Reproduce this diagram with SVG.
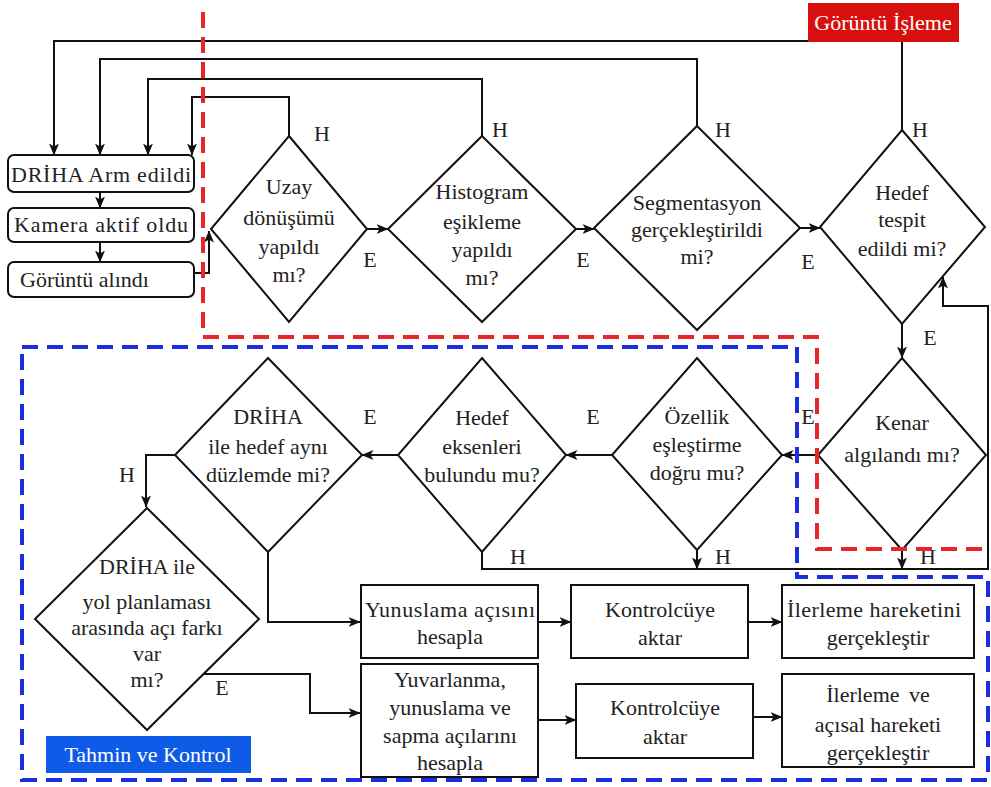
<svg xmlns="http://www.w3.org/2000/svg" width="991" height="787" viewBox="0 0 991 787">
<defs>
<marker id="ah" viewBox="0 0 12 10" refX="11.5" refY="5" markerWidth="12" markerHeight="10" markerUnits="userSpaceOnUse" orient="auto">
<path d="M0,0 L12,5 L0,10 L3,5 z" fill="#111"/>
</marker>
<style>
.t{font-family:"Liberation Serif","Times New Roman",serif;font-size:22px;fill:#222;text-anchor:middle}
.l{font-family:"Liberation Serif","Times New Roman",serif;font-size:22px;fill:#222;text-anchor:middle}
.n{fill:#fff;stroke:#111;stroke-width:2}
.c{fill:none;stroke:#111;stroke-width:2}
.ca{fill:none;stroke:#111;stroke-width:2;marker-end:url(#ah)}
.rd{fill:none;stroke:#e8262a;stroke-width:4;stroke-dasharray:16 9}
.bd{fill:none;stroke:#1a2ee0;stroke-width:4;stroke-dasharray:16 9}
.w{font-family:"Liberation Serif","Times New Roman",serif;font-size:22px;fill:#fff;text-anchor:middle}
</style>
</defs>
<rect width="991" height="787" fill="#fff"/>

<g id="connectors">
<path class="ca" d="M902,130 V41 H54 V155"/>
<path class="ca" d="M697,126 V59 H100 V155"/>
<path class="ca" d="M482,136 V79 H148 V155"/>
<path class="ca" d="M289,136 V97 H192 V155"/>
<path class="ca" d="M100,192 V208"/>
<path class="ca" d="M100,242 V262"/>
<path class="ca" d="M194,273 H209 V231"/>
<path class="ca" d="M367,229 H388"/>
<path class="ca" d="M576,229 H594"/>
<path class="ca" d="M800,228 H820"/>
<path class="ca" d="M902,324 V358"/>
<path class="ca" d="M818,455 H782"/>
<path class="ca" d="M612,455 H566"/>
<path class="ca" d="M398,455 H362"/>
<path class="ca" d="M175,455 H146 V507"/>
<path class="ca" d="M268,552 V622 H360"/>
<path class="ca" d="M204,674 H310 V713 H360"/>
<path class="ca" d="M538,622 H571"/>
<path class="ca" d="M748,622 H782"/>
<path class="ca" d="M538,720 H576"/>
<path class="ca" d="M753,717 H782"/>
<path class="ca" d="M482,552 V569 H988 V306 H943 V277"/>
<path class="ca" d="M697,550 V569"/>
<path class="ca" d="M902,550 V569"/>
</g>

<g id="n-arm"><rect class="n" x="8" y="155" width="186" height="37" rx="6"/><text class="t" x="101" y="182" textLength="180" lengthAdjust="spacing">DRİHA Arm edildi</text></g>
<g id="n-kamera"><rect class="n" x="8" y="208" width="186" height="34" rx="6"/><text class="t" x="101" y="232" textLength="174" lengthAdjust="spacing">Kamera aktif oldu</text></g>
<g id="n-goruntu"><rect class="n" x="8" y="262" width="186" height="35" rx="6"/><text class="t" x="20" y="287" style="text-anchor:start">Görüntü alındı</text></g>

<g id="d-uzay"><polygon class="n" points="289,136 367,229 289,322 211,229"/>
<text class="t" x="289" y="194">Uzay</text><text class="t" x="289" y="225">dönüşümü</text><text class="t" x="289" y="254">yapıldı</text><text class="t" x="289" y="282">mı?</text></g>
<g id="d-histogram"><polygon class="n" points="482,136 576,229 482,322 388,229"/>
<text class="t" x="482" y="199">Histogram</text><text class="t" x="482" y="229">eşikleme</text><text class="t" x="482" y="257">yapıldı</text><text class="t" x="482" y="285">mı?</text></g>
<g id="d-segment"><polygon class="n" points="697,126 800,228 697,330 594,228"/>
<text class="t" x="697" y="210">Segmentasyon</text><text class="t" x="697" y="237">gerçekleştirildi</text><text class="t" x="697" y="264">mi?</text></g>
<g id="d-hedeftespit"><polygon class="n" points="902,130 985,227 902,324 820,227"/>
<text class="t" x="902" y="200">Hedef</text><text class="t" x="902" y="227">tespit</text><text class="t" x="902" y="256">edildi mi?</text></g>
<g id="d-kenar"><polygon class="n" points="902,358 986,455 902,550 818,455"/>
<text class="t" x="902" y="430">Kenar</text><text class="t" x="902" y="462">algılandı mı?</text></g>
<g id="d-ozellik"><polygon class="n" points="697,358 782,455 697,550 612,455"/>
<text class="t" x="697" y="424">Özellik</text><text class="t" x="697" y="452">eşleştirme</text><text class="t" x="697" y="480">doğru mu?</text></g>
<g id="d-eksen"><polygon class="n" points="482,358 566,455 482,552 398,455"/>
<text class="t" x="482" y="425">Hedef</text><text class="t" x="482" y="454">eksenleri</text><text class="t" x="482" y="482">bulundu mu?</text></g>
<g id="d-duzlem"><polygon class="n" points="268,358 362,455 268,552 175,455"/>
<text class="t" x="268" y="424">DRİHA</text><text class="t" x="268" y="454">ile hedef aynı</text><text class="t" x="268" y="482">düzlemde mi?</text></g>
<g id="d-aci"><polygon class="n" points="147,508 259,619 147,730 35,619"/>
<text class="t" x="147" y="574">DRİHA ile</text><text class="t" x="147" y="609">yol planlaması</text><text class="t" x="147" y="635">arasında açı farkı</text><text class="t" x="147" y="661">var</text><text class="t" x="147" y="687">mı?</text></g>

<g id="b-yunus"><rect class="n" x="361" y="585" width="177" height="73"/><text class="t" x="450" y="617" textLength="170" lengthAdjust="spacing">Yunuslama açısını</text><text class="t" x="450" y="644">hesapla</text></g>
<g id="b-kontrol1"><rect class="n" x="571" y="585" width="177" height="73"/><text class="t" x="660" y="617">Kontrolcüye</text><text class="t" x="660" y="645">aktar</text></g>
<g id="b-ilerleme1"><rect class="n" x="782" y="585" width="192" height="73"/><text class="t" x="874" y="617" textLength="174" lengthAdjust="spacing">İlerleme hareketini</text><text class="t" x="878" y="645">gerçekleştir</text></g>
<g id="b-yuvar"><rect class="n" x="361" y="664" width="177" height="113"/><text class="t" x="450" y="687">Yuvarlanma,</text><text class="t" x="450" y="715">yunuslama ve</text><text class="t" x="450" y="743">sapma açılarını</text><text class="t" x="450" y="770">hesapla</text></g>
<g id="b-kontrol2"><rect class="n" x="576" y="684" width="177" height="74"/><text class="t" x="665" y="715">Kontrolcüye</text><text class="t" x="665" y="744">aktar</text></g>
<g id="b-ilerleme2"><rect class="n" x="782" y="674" width="192" height="93"/><text class="t" x="878" y="702" style="word-spacing:4px">İlerleme ve</text><text class="t" x="878" y="732">açısal hareketi</text><text class="t" x="878" y="760">gerçekleştir</text></g>

<g id="labels">
<text class="l" x="322" y="141">H</text>
<text class="l" x="500" y="137">H</text>
<text class="l" x="723" y="137">H</text>
<text class="l" x="920" y="137">H</text>
<text class="l" x="370" y="267">E</text>
<text class="l" x="583" y="267">E</text>
<text class="l" x="808" y="269">E</text>
<text class="l" x="930" y="345">E</text>
<text class="l" x="808" y="424">E</text>
<text class="l" x="593" y="424">E</text>
<text class="l" x="370" y="424">E</text>
<text class="l" x="127" y="482">H</text>
<text class="l" x="518" y="564">H</text>
<text class="l" x="723" y="564">H</text>
<text class="l" x="928" y="564">H</text>
<text class="l" x="222" y="695">E</text>
</g>

<g id="regions">
<polyline class="rd" points="203,12 203,337 817,337 817,549 990,549"/>
<polygon class="bd" points="22,347 797,347 797,577 988,577 988,780 22,780"/>
</g>

<g id="tag-goruntu"><rect x="808" y="3" width="151" height="39" fill="#d7100f"/><text class="w" x="883" y="30">Görüntü İşleme</text></g>
<g id="tag-tahmin"><rect x="46" y="736" width="205" height="37" fill="#0d5be6"/><text class="w" x="148" y="762">Tahmin ve Kontrol</text></g>
</svg>
